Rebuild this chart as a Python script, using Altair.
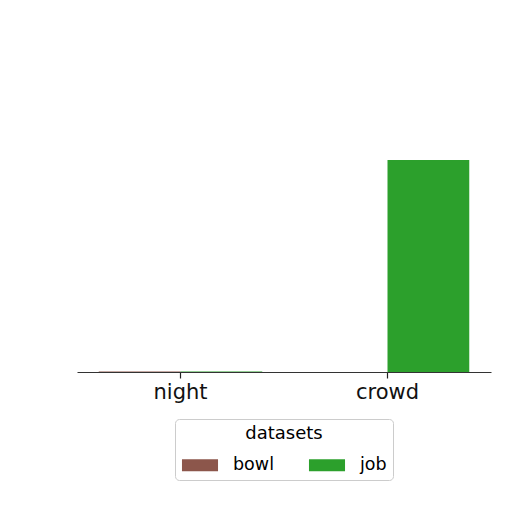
import altair as alt
import pandas as pd

categories = ["night", "crowd"]
datasets = ["bowl", "job"]
bowl_values = [0.02, 0.0]
job_values = [0.02, 7.0]

rows = []
for i, c in enumerate(categories):
    rows.append({"category": c, "dataset": "bowl", "value": bowl_values[i]})
    rows.append({"category": c, "dataset": "job", "value": job_values[i]})
df = pd.DataFrame(rows)

chart = alt.Chart(df).mark_bar().encode(
    x=alt.X("category:N", sort=categories, title=None,
            scale=alt.Scale(paddingInner=0.21, paddingOuter=0.105),
            axis=alt.Axis(labelAngle=0, labelFontSize=21, labelFont="DejaVu Sans",
                          labelColor="#111", ticks=True, tickColor="#222", tickWidth=1.2,
                          tickOpacity=1, domainColor="#333", tickBand="center",
                          tickSize=6, labelPadding=3, grid=False)),
    xOffset=alt.XOffset("dataset:N", sort=datasets),
    y=alt.Y("value:Q", scale=alt.Scale(domain=[0, 10]), axis=None),
    color=alt.Color("dataset:N", sort=datasets,
                    scale=alt.Scale(domain=datasets, range=["#8c564b", "#2ca02c"]),
                    legend=alt.Legend(title="datasets", orient="none", legendX=98, legendY=350,
                                      direction="horizontal", columns=2,
                                      titleAnchor="middle", titleFontSize=18, titleFontWeight="normal",
                                      titleFont="DejaVu Sans", labelFont="DejaVu Sans",
                                      labelFontSize=17.5, symbolType="M-1,-0.33H1V0.33H-1Z",
                                      symbolSize=1300, columnPadding=34, labelOffset=14,
                                      strokeColor="#ccc", padding=6, cornerRadius=4,
                                      fillColor="white", titlePadding=3)),
).properties(
    width=414, height=303,
    autosize=alt.AutoSizeParams(type="none"),
    padding={"left": 69, "top": 61, "right": 10, "bottom": 130},
).configure_view(stroke=None).configure_axisX(ticks=True)

chart.save("out.html", embed_options={"renderer": "svg", "actions": False})
